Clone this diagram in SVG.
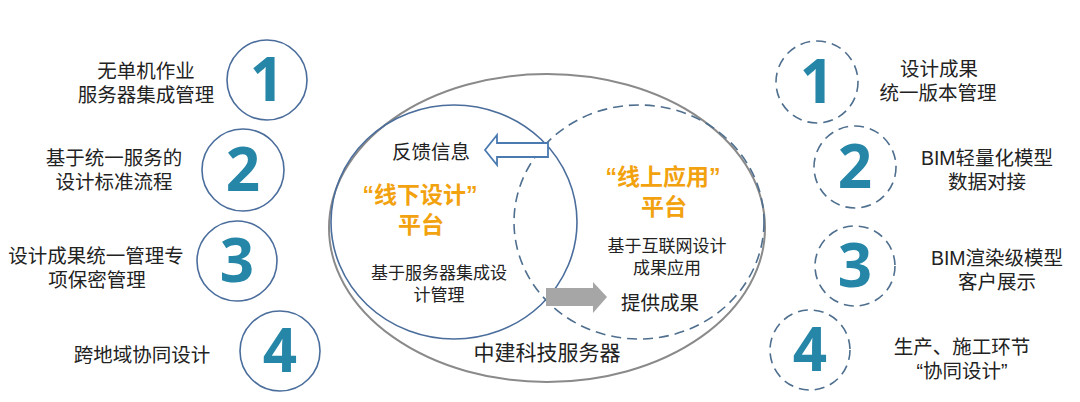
<svg xmlns="http://www.w3.org/2000/svg" width="1080" height="402" viewBox="0 0 1080 402">
<style>
.t{font-family:"Liberation Sans","Noto Sans CJK SC",sans-serif;fill:#222;}
.lbl{font-size:19.5px;}
.sm{font-size:17px;}
.org{font-family:"Liberation Sans","Noto Sans CJK SC",sans-serif;font-weight:bold;font-size:23px;fill:#f2a20f;}
.num{font-family:"Open Sans","Liberation Sans",sans-serif;font-weight:bold;font-size:60px;fill:#2686a8;}
.sc{fill:#fff;stroke:#4a6d9c;stroke-width:1.6;}
.dc{fill:none;stroke:#4f6f8f;stroke-width:1.6;stroke-dasharray:10 6;}
</style>
<rect width="1080" height="402" fill="#fff"/>
<g id="platform">
<ellipse cx="547" cy="228" rx="218" ry="154" fill="none" stroke="#8a8a8a" stroke-width="2"/>
<ellipse cx="454" cy="222" rx="123" ry="117" fill="none" stroke="#4a6d9c" stroke-width="1.6"/>
<ellipse cx="639" cy="222" rx="125" ry="117" fill="none" stroke="#4f6f8f" stroke-width="1.6" stroke-dasharray="10 6"/>
<text class="t" x="547" y="360" text-anchor="middle" font-size="21">中建科技服务器</text>
</g>
<g id="offline">
<text class="org" x="420" y="203" text-anchor="middle">“线下设计”</text>
<text class="org" x="421" y="233" text-anchor="middle">平台</text>
<text class="t sm" x="439" y="279" text-anchor="middle">基于服务器集成设</text>
<text class="t sm" x="439" y="301" text-anchor="middle">计管理</text>
</g>
<g id="online">
<text class="org" x="663" y="185" text-anchor="middle">“线上应用”</text>
<text class="org" x="664" y="215" text-anchor="middle">平台</text>
<text class="t sm" x="667" y="252" text-anchor="middle">基于互联网设计</text>
<text class="t sm" x="667" y="274" text-anchor="middle">成果应用</text>
</g>
<g id="connectors">
<path d="M548 143 L497 143 L497 135 L485 150 L497 165 L497 157 L548 157 Z" fill="#fff" stroke="#4a7ab0" stroke-width="1.8"/>
<path d="M546 288 L593 288 L593 282 L607 297 L593 313 L593 306 L546 306 Z" fill="#a6a6a6"/>
<text class="t lbl" x="431" y="159" text-anchor="middle">反馈信息</text>
<text class="t lbl" x="660" y="310" text-anchor="middle">提供成果</text>
</g>
<g id="left1"><circle class="sc" cx="267" cy="80" r="40"/><text class="num" x="267" y="101" text-anchor="middle">1</text>
<text class="t lbl" x="146" y="78" text-anchor="middle">无单机作业</text><text class="t lbl" x="146" y="102" text-anchor="middle">服务器集成管理</text></g>
<g id="left2"><circle class="sc" cx="243" cy="170" r="41"/><text class="num" x="243" y="191" text-anchor="middle">2</text>
<text class="t lbl" x="114" y="165" text-anchor="middle">基于统一服务的</text><text class="t lbl" x="114" y="189" text-anchor="middle">设计标准流程</text></g>
<g id="left3"><circle class="sc" cx="237" cy="261" r="40"/><text class="num" x="237" y="282" text-anchor="middle">3</text>
<text class="t lbl" x="96" y="263" text-anchor="middle">设计成果统一管理专</text><text class="t lbl" x="97" y="287" text-anchor="middle">项保密管理</text></g>
<g id="left4"><circle class="sc" cx="280" cy="351" r="40"/><text class="num" x="280" y="372" text-anchor="middle">4</text>
<text class="t lbl" x="142" y="362" text-anchor="middle">跨地域协同设计</text></g>
<g id="right1"><circle class="dc" cx="817" cy="82" r="41"/><text class="num" x="817" y="103" text-anchor="middle">1</text>
<text class="t lbl" x="939" y="76" text-anchor="middle">设计成果</text><text class="t lbl" x="938" y="100" text-anchor="middle">统一版本管理</text></g>
<g id="right2"><circle class="dc" cx="855" cy="167" r="41"/><text class="num" x="855" y="188" text-anchor="middle">2</text>
<text class="t lbl" x="987" y="165" text-anchor="middle">BIM轻量化模型</text><text class="t lbl" x="987" y="189" text-anchor="middle">数据对接</text></g>
<g id="right3"><circle class="dc" cx="855" cy="266" r="40"/><text class="num" x="855" y="287" text-anchor="middle">3</text>
<text class="t lbl" x="997" y="265" text-anchor="middle">BIM渲染级模型</text><text class="t lbl" x="997" y="289" text-anchor="middle">客户展示</text></g>
<g id="right4"><circle class="dc" cx="810" cy="350" r="40"/><text class="num" x="810" y="371" text-anchor="middle">4</text>
<text class="t lbl" x="962" y="354" text-anchor="middle">生产、施工环节</text><text class="t lbl" x="962" y="378" text-anchor="middle">“协同设计”</text></g>
</svg>
